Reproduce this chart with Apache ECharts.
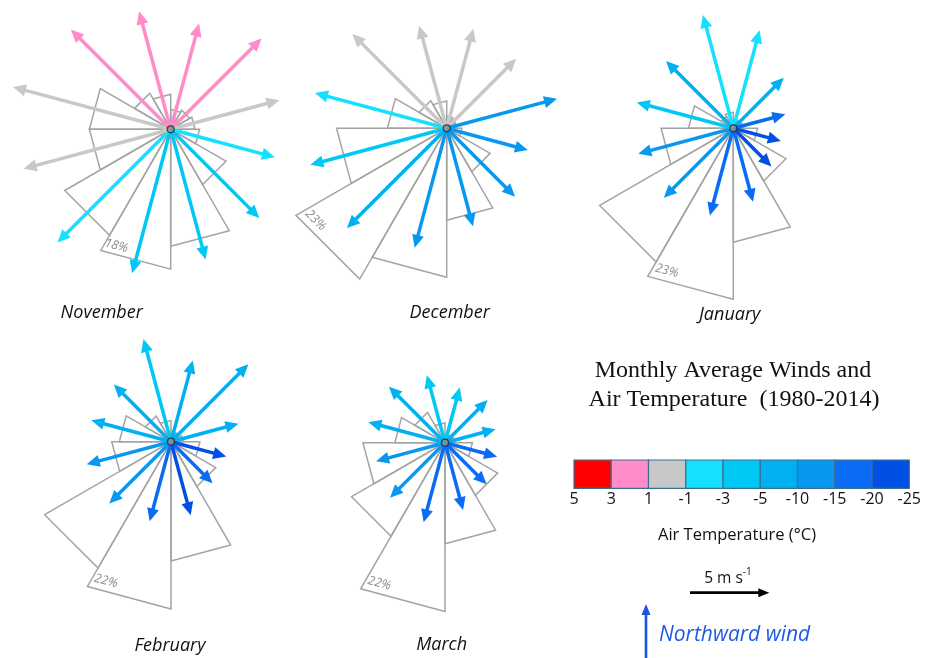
<!DOCTYPE html>
<html><head><meta charset="utf-8">
<script src="https://cdn.jsdelivr.net/npm/echarts@6/dist/echarts.min.js"></script>
<style>html,body{margin:0;padding:0;background:#fff}#c{width:925px;height:658px}</style>
</head><body><div id="c"></div>
<script>
// ---------------- DATA ----------------
const months = ['November','December','January','February','March'];
const arrowDirs = [15,45,75,105,135,165,195,225,255,285,315,345]; // deg clockwise from north
const sectorStarts = [0,30,60,90,120,150,180,210,240,270,300,330];
const sectorWidth = 30;

const speedNov = [6.9,8.1,7.1,6.8,7.9,8.5,9.4,10.1,9.6,10.3,8.9,7.7];
const tempNov  = [2,2,0,-2,-4,-4,-4,-2,0,0,2,2];
const freqNov  = [2.6,2.9,3.2,3.8,8.4,15.4,18.4,16.1,10.7,10.7,5.5,4.6];

const speedDec = [6.5,6.2,7.2,5.3,6.1,6.4,7.8,8.9,8.9,8.6,8.4,6.7];
const tempDec  = [0,0,-12,-12,-12,-12,-12,-8,-4,-2,0,0];
const freqDec  = [1.6,1.3,1.3,2.0,6.6,12.1,19.6,22.9,14.5,7.8,4.2,3.6];

const speedJan = [6.4,4.5,3.4,3.1,3.4,4.8,5.7,6.2,6.2,6.3,6.0,7.4];
const tempJan  = [-2,-8,-17,-22,-22,-18,-17,-12,-12,-4,-6,-2];
const freqJan  = [1.2,1.0,1.3,3.2,8.0,15.0,22.5,20.3,9.5,5.9,1.8,2.1];

const speedFeb = [5.3,6.9,4.4,3.6,3.7,4.8,5.2,5.5,5.5,5.2,5.1,6.7];
const tempFeb  = [-7,-7,-9,-21,-17,-22,-17,-14,-11,-7,-7,-4];
const freqFeb  = [1.3,1.3,1.6,3.8,6.8,15.7,22.0,19.2,7.8,6.8,3.9,2.8];

const speedMar = [3.6,3.8,3.3,3.4,3.7,4.4,5.2,4.9,4.5,5.0,5.0,4.4];
const tempMar  = [-4,-7,-8,-16,-16,-17,-17,-12,-11,-8,-7,-4];
const freqMar  = [1.1,1.1,1.3,3.6,8.0,13.3,22.2,14.2,10.8,6.6,4.6,2.6];

const maxLabels = ['18%','23%','23%','22%','22%'];
const tempBreaks = [5,3,1,-1,-3,-5,-10,-15,-20,-25];
const tempTickLabels = ['5','3','1','-1','-3','-5','-10','-15','-20','-25'];
const scaleSpeed = 5; // m/s reference arrow

// ---------------- STYLE / LAYOUT ----------------
const palette = ['#ff0000','#ff8cc8','#c8c8c8','#14e0ff','#00c8f5','#00b0f0','#0898f0','#0a6cf5','#0050e6'];
const roses = [
  {speed:speedNov, temp:tempNov, freq:freqNov},
  {speed:speedDec, temp:tempDec, freq:freqDec},
  {speed:speedJan, temp:tempJan, freq:freqJan},
  {speed:speedFeb, temp:tempFeb, freq:freqFeb},
  {speed:speedMar, temp:tempMar, freq:freqMar}
];
const centers = [[170.7,129.3],[446.7,128.3],[733.3,128.3],[171,441.7],[445,442.7]];
const monthPos = [[101.7,313],[449.7,313],[729.7,315],[170,646],[441.7,645]];
const PX_PCT = 7.6, PX_MS = 15.86, HALF = 120;
const SANS = "'Open Sans', 'DejaVu Sans', sans-serif";

function tempColor(t){
  for (let i=0;i<9;i++){ if (t<=tempBreaks[i] && t>=tempBreaks[i+1]) return palette[i]; }
  return palette[8];
}
const rad = d => d*Math.PI/180;

function arrowShape(c, p, color, lw, hl, hw){
  const dx=p[0]-c[0], dy=p[1]-c[1], L=Math.hypot(dx,dy), ux=dx/L, uy=dy/L;
  const bx=p[0]-ux*hl, by=p[1]-uy*hl;
  return {type:'group', children:[
    {type:'line', shape:{x1:c[0],y1:c[1],x2:bx+ux*2,y2:by+uy*2}, style:{stroke:color,lineWidth:lw,lineCap:'butt'}},
    {type:'polygon', shape:{points:[[p[0],p[1]],[bx-uy*hw,by+ux*hw],[bx+uy*hw,by-ux*hw]]}, style:{fill:color}}
  ]};
}

function wedgeRender(params, api){
  const a0=rad(api.value(0)), a1=rad(api.value(0)+sectorWidth), f=api.value(1);
  const c=api.coord([0,0]);
  const p0=api.coord([f*Math.sin(a0), f*Math.cos(a0)]);
  const p1=api.coord([f*Math.sin(a1), f*Math.cos(a1)]);
  return {type:'polygon', shape:{points:[c,p0,p1]}, style:{fill:'none', stroke:'#a4a4a4', lineWidth:1.5}};
}
function windArrowRender(params, api){
  const d=rad(api.value(0)), s=api.value(1), t=api.value(2);
  const c=api.coord([0,0]);
  const p=api.coord([s*Math.sin(d), s*Math.cos(d)]);
  return arrowShape(c,p,tempColor(t),3.5,13,6);
}

const grid=[], xAxis=[], yAxis=[], series=[];
function addGrid(box, xr, yr){
  const gi=grid.length;
  grid.push(Object.assign({show:false, containLabel:false}, box));
  xAxis.push({gridIndex:gi, type:'value', min:xr[0], max:xr[1], show:false});
  yAxis.push({gridIndex:gi, type:'value', min:yr[0], max:yr[1], show:false});
  return gi;
}

roses.forEach((r,i)=>{
  const [cx,cy]=centers[i];
  const box={left:cx-HALF, top:cy-HALF, width:2*HALF, height:2*HALF};
  const rp=HALF/PX_PCT, rw=HALF/PX_MS;
  const gp=addGrid(box,[-rp,rp],[-rp,rp]);
  const gw=addGrid(box,[-rw,rw],[-rw,rw]);
  series.push({type:'custom', xAxisIndex:gp, yAxisIndex:gp, z:2, silent:true,
    data: sectorStarts.map((a,k)=>[a, r.freq[k]]), renderItem: wedgeRender});
  let mi=0; r.freq.forEach((f,k)=>{ if (f>r.freq[mi]) mi=k; });
  const la = sectorStarts[mi]+sectorWidth-5, lr = r.freq[mi]*0.92, bis = sectorStarts[mi]+sectorWidth/2;
  series.push({type:'custom', xAxisIndex:gp, yAxisIndex:gp, z:3, silent:true,
    data:[[la, lr]], renderItem:(params, api)=>{
      const a=rad(api.value(0)), rr=api.value(1);
      const p=api.coord([rr*Math.sin(a), rr*Math.cos(a)]);
      return {type:'text', x:p[0], y:p[1], rotation:-rad(bis-180),
        style:{text:maxLabels[i], fill:'#8e8e8e', font:"italic 12.5px "+SANS, textAlign:'center', textVerticalAlign:'middle'}};
    }});
  series.push({type:'custom', xAxisIndex:gw, yAxisIndex:gw, z:4, silent:true,
    data: arrowDirs.map((d,k)=>[d, r.speed[k], r.temp[k]]), renderItem: windArrowRender});
  series.push({type:'scatter', xAxisIndex:gp, yAxisIndex:gp, z:6, silent:true, data:[[0,0]],
    symbolSize:7, itemStyle:{color:'#8c8c8c', borderColor:'#222', borderWidth:1.2}});
});

// colour bar
const gc=addGrid({left:574, top:460, width:335.3, height:28.3},[0,9],[0,1]);
xAxis[gc]={gridIndex:gc, type:'value', min:0, max:9, interval:1,
  axisLine:{show:false}, axisTick:{show:false}, splitLine:{show:false},
  axisLabel:{formatter:v=>tempTickLabels[Math.round(v)], fontSize:16, fontFamily:SANS, color:'#111', margin:3, showMinLabel:true, showMaxLabel:true}};
series.push({type:'custom', xAxisIndex:gc, yAxisIndex:gc, z:2, silent:true,
  data: palette.map((c,k)=>[k,1]), renderItem:(params, api)=>{
    const k=api.value(0);
    const p0=api.coord([k,1]), p1=api.coord([k+1,0]);
    return {type:'rect', shape:{x:p0[0], y:p0[1], width:p1[0]-p0[0], height:p1[1]-p0[1]},
      style:{fill:palette[k], stroke:'#3d6f92', lineWidth:1.2}};
  }});

// speed scale arrow
const gs=addGrid({left:690, top:572.7, width:120, height:40},[0,120/PX_MS],[-1,1]);
series.push({type:'custom', xAxisIndex:gs, yAxisIndex:gs, z:3, silent:true,
  data:[[scaleSpeed,0]], renderItem:(params, api)=>{
    const c=api.coord([0,0]), p=api.coord([api.value(0),api.value(1)]);
    return arrowShape(c,p,'#000',2.8,11,4.5);
  }});

const graphic=[];
months.forEach((m,i)=>{
  graphic.push({type:'text', x:monthPos[i][0], y:monthPos[i][1], silent:true,
    style:{text:m, font:"italic 18px "+SANS, fill:'#111', textAlign:'center', textVerticalAlign:'middle'}});
});
graphic.push({type:'text', x:733, y:371, silent:true,
  style:{text:'Monthly Average Winds and', font:"24px 'Liberation Serif', 'Times New Roman', serif", fill:'#111', textAlign:'center', textVerticalAlign:'middle'}});
graphic.push({type:'text', x:734, y:400, silent:true,
  style:{text:'Air Temperature  (1980-2014)', font:"24px 'Liberation Serif', 'Times New Roman', serif", fill:'#111', textAlign:'center', textVerticalAlign:'middle'}});
graphic.push({type:'text', x:737, y:535, silent:true,
  style:{text:'Air Temperature (°C)', font:"16.5px "+SANS, fill:'#111', textAlign:'center', textVerticalAlign:'middle'}});
graphic.push({type:'text', x:728, y:577, silent:true,
  style:{text:'{a|5 m s}{b|-1}', textAlign:'center', textVerticalAlign:'middle',
    rich:{a:{font:"15.5px "+SANS, fill:'#111', lineHeight:20, verticalAlign:'bottom'}, b:{font:"10px "+SANS, fill:'#111', lineHeight:20, verticalAlign:'top'}}}});
graphic.push({type:'group', silent:true, children:[
  {type:'line', shape:{x1:646,y1:660,x2:646,y2:613}, style:{stroke:'#1a55e0', lineWidth:2.6}},
  {type:'polygon', shape:{points:[[646,604],[641.5,615],[650.5,615]]}, style:{fill:'#1a55e0'}}
]});
graphic.push({type:'text', x:659, y:635, silent:true,
  style:{text:'Northward wind', font:"italic 21px "+SANS, fill:'#1d5ae6', textAlign:'left', textVerticalAlign:'middle'}});

const chart=echarts.init(document.getElementById('c'), null, {renderer:'canvas'});
chart.setOption({animation:false, backgroundColor:'#fff', grid, xAxis, yAxis, series, graphic});
</script></body></html>
